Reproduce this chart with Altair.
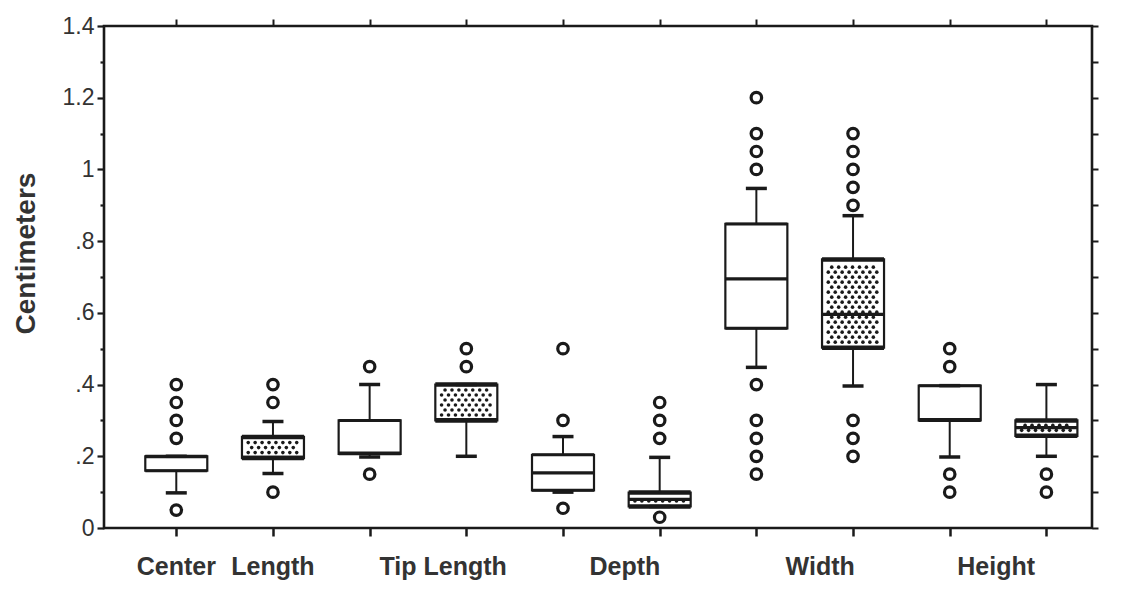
import altair as alt
import pandas as pd

# ---------------- data ----------------
measures = ["Center Length", "Tip Length", "Depth", "Width", "Height"]
box_pos = [1, 2, 3, 4, 5, 6, 7, 8, 9, 10]
box_group = ["plain", "dotted"] * 5
q1 = [0.16, 0.195, 0.207, 0.30, 0.105, 0.06, 0.557, 0.503, 0.30, 0.257]
q3 = [0.20, 0.254, 0.30, 0.40, 0.204, 0.099, 0.848, 0.749, 0.397, 0.30]
median = [0.199, 0.197, 0.209, 0.302, 0.154, 0.08, 0.695, 0.596, 0.302, 0.28]
whisk_lo = [0.098, 0.152, 0.198, 0.20, 0.10, 0.06, 0.448, 0.396, 0.198, 0.20]
whisk_hi = [0.20, 0.297, 0.40, 0.40, 0.255, 0.197, 0.947, 0.871, 0.397, 0.40]

out_pos = [1, 1, 1, 1, 1,
           2, 2, 2,
           3, 3,
           4, 4,
           5, 5, 5,
           6, 6, 6, 6,
           7, 7, 7, 7, 7, 7, 7, 7, 7,
           8, 8, 8, 8, 8, 8, 8, 8,
           9, 9, 9, 9,
           10, 10]
out_val = [0.40, 0.35, 0.30, 0.25, 0.05,
           0.40, 0.35, 0.10,
           0.45, 0.15,
           0.50, 0.45,
           0.50, 0.30, 0.055,
           0.35, 0.30, 0.25, 0.03,
           1.20, 1.10, 1.05, 1.00, 0.40, 0.30, 0.25, 0.20, 0.15,
           1.10, 1.05, 1.00, 0.95, 0.90, 0.30, 0.25, 0.20,
           0.50, 0.45, 0.15, 0.10,
           0.15, 0.10]

label_text = ["Center", "Length", "Tip Length", "Depth", "Width", "Height"]
label_pos = [1, 2, 3.76, 5.64, 7.66, 9.48]

y_values = [round(i * 0.1, 1) for i in range(15)]
y_tick_labels = ["0", "", ".2", "", ".4", "", ".6", "", ".8", "", "1", "", "1.2", "", "1.4"]

# ---------------- layout ----------------
W, H = 988, 502
X_DOM = [0.304, 10.42]
Y_DOM = [0, 1.4]
INK = "#1a1a1a"
FONT = "Liberation Sans"
BOX_W = 62

boxes = pd.DataFrame({"pos": box_pos, "group": box_group, "q1": q1, "q3": q3,
                      "median": median, "lo": whisk_lo, "hi": whisk_hi})
outliers = pd.DataFrame({"pos": out_pos, "value": out_val})
labels = pd.DataFrame({"text": label_text, "pos": label_pos})

# stipple texture for the shaded boxes (decoration inside the data boxes)
px_x = W / (X_DOM[1] - X_DOM[0])
px_y = H / (Y_DOM[1] - Y_DOM[0])
dots = []
for _, b in boxes[boxes.group == "dotted"].iterrows():
    top_px = (b.q3 - b.q1) * px_y
    row = 0
    yy = 5.5
    while yy <= top_px - 4.5:
        shift = 3.5 if row % 2 else 0
        xx = -25 + shift
        while xx <= 26:
            dots.append({"x": b.pos + xx / px_x, "y": b.q1 + yy / px_y})
            xx += 7
        yy += 5
        row += 1
dots = pd.DataFrame(dots)

xs = alt.Scale(domain=X_DOM, nice=False, zero=False)
ys = alt.Scale(domain=Y_DOM, nice=False, zero=False)

x_bottom = alt.X("pos:Q", scale=xs, title=None,
                 axis=alt.Axis(orient="bottom", values=box_pos, labels=False,
                               tickSize=8, tickWidth=2.5, domain=False, grid=False))
y_left = alt.Y("q1:Q", scale=ys, title="Centimeters",
               axis=alt.Axis(orient="left", values=y_values,
                             labelExpr="%s[round(datum.value*10)]" % str(y_tick_labels),
                             tickSize={"condition": {"test": "round(datum.value*10) % 2 == 0", "value": 7},
                                       "value": 4},
                             tickWidth=2.2, labelPadding=3, domain=False, grid=False,
                             titleX=-78, titleY=227, titleAngle=-90,
                             titleAlign="center", titleBaseline="middle",
                             titleFont=FONT, titleFontSize=28, titleFontWeight="bold",
                             titleColor="#333"))

base = alt.Chart(boxes)

box_rect = base.mark_bar(size=BOX_W, fill="white", stroke=INK, strokeWidth=2.2,
                         opacity=1).encode(x=x_bottom, y=y_left, y2="q3:Q")

stipple = alt.Chart(dots).mark_circle(size=13, color=INK, opacity=1).encode(
    x=alt.X("x:Q", scale=xs, axis=None), y=alt.Y("y:Q", scale=ys, axis=None))

plain = base.transform_filter("datum.group == 'plain'")
dotted = base.transform_filter("datum.group == 'dotted'")

def hline(src, field, width, thick):
    return src.mark_tick(orient="horizontal", size=width, thickness=thick, color=INK,
                         opacity=1).encode(
        x=alt.X("pos:Q", scale=xs, axis=None), y=alt.Y(field, scale=ys, axis=None))

edges = [hline(plain, "q1:Q", BOX_W, 3), hline(plain, "q3:Q", BOX_W, 3),
         hline(dotted, "q1:Q", BOX_W, 4.5), hline(dotted, "q3:Q", BOX_W, 4.5)]

med = hline(base, "median:Q", BOX_W, 3.2)

whisk_up = base.mark_rule(color=INK, strokeWidth=2, opacity=1).encode(
    x=alt.X("pos:Q", scale=xs, axis=None), y=alt.Y("q3:Q", scale=ys, axis=None), y2="hi:Q")
whisk_dn = base.mark_rule(color=INK, strokeWidth=2, opacity=1).encode(
    x=alt.X("pos:Q", scale=xs, axis=None), y=alt.Y("q1:Q", scale=ys, axis=None), y2="lo:Q")
cap_up = hline(base, "hi:Q", 21, 3.5)
cap_dn = hline(base, "lo:Q", 21, 3.5)

pts = alt.Chart(outliers).mark_point(shape="circle", filled=False, size=110,
                                     stroke=INK, strokeWidth=3.2, opacity=1).encode(
    x=alt.X("pos:Q", scale=xs, title=None,
            axis=alt.Axis(orient="top", values=box_pos, labels=False, tickSize=7,
                          tickWidth=2, domain=False, grid=False)),
    y=alt.Y("value:Q", scale=ys, title=None,
            axis=alt.Axis(orient="right", values=y_values, labels=False, tickSize=6,
                          tickWidth=2, domain=False, grid=False)))

txt = alt.Chart(labels).mark_text(font=FONT, fontSize=25, fontWeight="bold",
                                  color="#333", baseline="middle", align="center").encode(
    x=alt.X("pos:Q", scale=xs, axis=None), text="text:N", y=alt.value(H + 39))

chart = alt.layer(box_rect, stipple, *edges, med, whisk_up, whisk_dn, cap_up, cap_dn,
                  pts, txt).resolve_axis(x="independent", y="independent").properties(
    width=W, height=H,
    autosize=alt.AutoSizeParams(type="none"),
    padding={"left": 96, "top": 18, "right": 30, "bottom": 56},
    background="white",
).configure_view(stroke=INK, strokeWidth=2.6).configure_axis(
    labelFont=FONT, labelFontSize=23, labelColor="#333", tickColor=INK)

chart.save("out.html", embed_options={"renderer": "svg", "actions": False})
